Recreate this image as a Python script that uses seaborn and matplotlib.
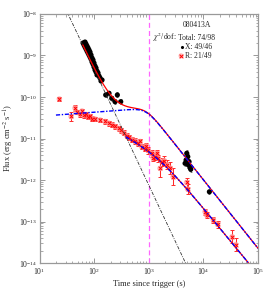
import numpy as np
import pandas as pd
import matplotlib
matplotlib.use('Agg')
import matplotlib.pyplot as plt
import seaborn as sns
from matplotlib.ticker import LogLocator, NullFormatter

sns.set_style('ticks')
plt.rcParams['font.family'] = ['Liberation Serif', 'DejaVu Serif']
plt.rcParams['mathtext.fontset'] = 'stix'

# ---------------- data ----------------
# X-ray (black filled circles)
x_time = [62.7, 65.3, 68.1, 68.1, 71.0, 71.0, 74.1, 74.1, 77.3, 77.3, 80.6, 80.6,
          84.1, 84.1, 87.7, 87.7, 91.5, 91.5, 95.4, 95.4, 99.5, 99.5, 103.8, 103.8,
          108.3, 108.3, 113, 113, 117.8, 122.9, 128.2, 133.7, 139.5, 163, 187.4,
          210, 241.5, 266, 307, 4624, 4822, 4965, 5180, 5310, 5470, 5705, 5870, 12880]
x_flux = [2.0e-9, 1.79e-9, 2.11e-9, 1.60e-9, 1.89e-9, 1.44e-9, 1.69e-9, 1.28e-9,
          1.52e-9, 1.15e-9, 1.36e-9, 1.03e-9, 1.21e-9, 9.2e-10, 1.03e-9, 8.2e-10,
          8.7e-10, 7.0e-10, 7.8e-10, 6.2e-10, 6.6e-10, 5.3e-10, 5.6e-10, 4.5e-10,
          5.0e-10, 4.0e-10, 4.2e-10, 3.4e-10, 3.8e-10, 3.2e-10, 2.87e-10, 2.43e-10,
          2.57e-10, 1.12e-10, 1.23e-10, 9.3e-11, 7.7e-11, 1.12e-10, 7.7e-11,
          2.52e-12, 3.03e-12, 4.4e-12, 3.64e-12, 2.30e-12, 2.76e-12, 1.98e-12,
          1.81e-12, 5.2e-13]
x_err_dex = [0.03] * 33 + [0.06] * 6 + [0.07] * 8 + [0.05]

# Optical R band (red crosses)
r_time = [23.1, 37.8, 44.7, 47.6, 55.2, 60.0, 65.3, 71.1, 77.3, 84.1, 91.5, 103.8,
          128.2, 158.5, 183.7, 208.4, 241.6, 280, 311, 345, 392, 435, 494, 561,
          637, 693, 738, 855, 891, 970, 1125, 1199, 1304, 1419, 1500, 1610, 1730,
          1906, 2163, 2455, 2786, 4920, 5140, 10740, 11450, 15250, 18200, 33560,
          38900]
r_flux = [8.95e-11, 3.39e-11, 5.43e-11, 4.35e-11, 3.89e-11, 4.60e-11, 3.68e-11,
          3.79e-11, 3.30e-11, 3.39e-11, 3.03e-11, 2.95e-11, 2.79e-11, 2.57e-11,
          2.36e-11, 2.17e-11, 1.95e-11, 1.76e-11, 1.56e-11, 1.36e-11, 1.18e-11,
          1.06e-11, 9.46e-12, 8.71e-12, 7.58e-12, 8.47e-12, 6.41e-12, 5.74e-12,
          6.59e-12, 5.14e-12, 4.40e-12, 3.39e-12, 3.68e-12, 4.36e-12, 3.30e-12,
          1.91e-12, 2.76e-12, 2.95e-12, 2.36e-12, 1.95e-12, 1.20e-12, 8.71e-13,
          6.07e-13, 1.72e-13, 1.43e-13, 1.09e-13, 8.47e-14, 4.31e-14, 2.79e-14]
r_err_dex = [0.04, 0.12, 0.07, 0.06, 0.06, 0.06, 0.06, 0.06, 0.06, 0.06, 0.06, 0.06,
             0.06, 0.06, 0.06, 0.06, 0.06, 0.06, 0.06, 0.06, 0.06, 0.06, 0.06, 0.07,
             0.07, 0.07, 0.07, 0.07, 0.08, 0.08, 0.08, 0.08, 0.08, 0.08, 0.08, 0.2,
             0.1, 0.1, 0.1, 0.15, 0.2, 0.1, 0.12, 0.07, 0.07, 0.08, 0.08, 0.15, 0.15]

# fitted model components (parameters)
steep_tref, steep_fref, steep_index = 33.3, 1e-8, 2.79
plat_norm, plat_tbreak, plat_a1, plat_a2, plat_smooth = 10**-10.27, 900.0, -0.1, 1.65, 3.0
opt_norm, opt_tbreak, opt_a1, opt_a2, opt_smooth = 10**-11.36, 1500.0, 0.7, 1.6, 2.0
x_model_range = (62.0, 1e5)
plat_range = (20.0, 1e5)
opt_range = (380.0, 1e5)
steep_range = (10.0, 1e5)
t_vline = 1000.0

xticks = [1e1, 1e2, 1e3, 1e4, 1e5]
yticks = [1e-14, 1e-13, 1e-12, 1e-11, 1e-10, 1e-9, 1e-8]


def steep(t):
    return steep_fref * (t / steep_tref) ** (-steep_index)


def sbpl(t, norm, tb, a1, a2, w):
    x = t / tb
    return norm * (x ** (w * a1) + x ** (w * a2)) ** (-1.0 / w)


fig = plt.figure(figsize=(2.70, 2.91), dpi=100)
ax = fig.add_axes([0.1463, 0.0962, 0.8093, 0.8557])
ax.set_xscale('log')
ax.set_yscale('log')
ax.set_xlim(1e1, 1e5)
ax.set_ylim(1e-14, 1e-8)

# data
xf = np.array(x_flux); xe = np.array(x_err_dex)
rf = np.array(r_flux); re = np.array(r_err_dex)
ax.errorbar(r_time, rf, yerr=[rf * (1 - 10 ** -re), rf * (10 ** re - 1)], fmt='none',
            ecolor='#ff2a2a', elinewidth=0.75, capsize=1.4, capthick=0.7, zorder=2)
df_r = pd.DataFrame({'t': r_time, 'f': r_flux})
sns.scatterplot(data=df_r, x='t', y='f', ax=ax, marker='o', s=16, color='#ff9a9a',
                edgecolor='none', alpha=0.7, zorder=2, legend=False)
sns.scatterplot(data=df_r, x='t', y='f', ax=ax, marker='x', s=7, color='#ff0000',
                linewidth=0.7, zorder=3, legend=False)

ax.errorbar(x_time, xf, yerr=[xf * (1 - 10 ** -xe), xf * (10 ** xe - 1)], fmt='none',
            ecolor='#555555', elinewidth=0.6, capsize=0.8, capthick=0.5, zorder=3)
df_x = pd.DataFrame({'t': x_time, 'f': x_flux})
sns.scatterplot(data=df_x, x='t', y='f', ax=ax, marker='o', s=14, color='black',
                edgecolor='none', zorder=4, legend=False)

# models
t_st = np.geomspace(*steep_range, 300)
sns.lineplot(x=t_st, y=steep(t_st), ax=ax, color='#333333', lw=0.6,
             dashes=False, zorder=5, sort=False)
ax.lines[-1].set_linestyle((0, (4, 1.5, 1, 1.5)))

t_x = np.geomspace(*x_model_range, 300)
sns.lineplot(x=t_x, y=steep(t_x) + sbpl(t_x, plat_norm, plat_tbreak, plat_a1, plat_a2, plat_smooth),
             ax=ax, color='#ff0000', lw=0.9, zorder=6, sort=False)
t_p = np.geomspace(*plat_range, 300)
sns.lineplot(x=t_p, y=sbpl(t_p, plat_norm, plat_tbreak, plat_a1, plat_a2, plat_smooth),
             ax=ax, color='#0000ff', lw=1.0, zorder=7, sort=False)
ax.lines[-1].set_linestyle((0, (3, 1.2, 1, 1.2)))

t_o = np.geomspace(*opt_range, 300)
sns.lineplot(x=t_o, y=sbpl(t_o, opt_norm, opt_tbreak, opt_a1, opt_a2, opt_smooth),
             ax=ax, color='#ff0000', lw=0.9, zorder=6, sort=False)
sns.lineplot(x=t_o, y=sbpl(t_o, opt_norm, opt_tbreak, opt_a1, opt_a2, opt_smooth),
             ax=ax, color='#0000ff', lw=1.0, zorder=7, sort=False)
ax.lines[-1].set_linestyle((0, (3, 1.2, 1, 1.2)))

ax.axvline(t_vline, color='#ff66ff', lw=0.9, ls=(0, (4, 2.5)), zorder=1)

# axes styling
for s in ax.spines.values():
    s.set_color('#999999')
    s.set_linewidth(0.9)
ax.set_xticks(xticks)
ax.set_yticks(yticks)
ax.xaxis.set_minor_locator(LogLocator(base=10, subs=np.arange(2, 10), numticks=20))
ax.yaxis.set_minor_locator(LogLocator(base=10, subs=np.arange(2, 10), numticks=20))
ax.xaxis.set_minor_formatter(NullFormatter())
ax.yaxis.set_minor_formatter(NullFormatter())
ax.tick_params(which='both', direction='in', top=True, right=True, color='#888888',
               labelsize=5.5, pad=2)
ax.tick_params(which='major', length=3.5, width=0.6)
ax.tick_params(which='minor', length=1.8, width=0.5)
ax.set_xlabel('Time since trigger (s)', fontsize=6, labelpad=2)
ax.set_ylabel('Flux (erg cm$^{-2}$ s$^{-1}$)', fontsize=6, labelpad=2)

# annotations
tr = ax.transAxes
ax.text(0.72, 0.955, '080413A', transform=tr, fontsize=5.5, ha='center', va='center')
ax.text(0.52, 0.905, '$\\chi^2$/dof:', transform=tr, fontsize=5.5, ha='left', va='center')
ax.text(0.635, 0.905, 'Total: 74/98', transform=tr, fontsize=5.5, ha='left', va='center')
ax.text(0.668, 0.868, 'X: 49/46', transform=tr, fontsize=5.5, ha='left', va='center')
ax.text(0.668, 0.832, 'R: 21/49', transform=tr, fontsize=5.5, ha='left', va='center')
ax.scatter([0.65], [0.868], transform=tr, s=1.5, color='black', zorder=8, clip_on=False)
ax.scatter([0.648], [0.832], transform=tr, s=14, color='#ff9a9a', alpha=0.7,
           edgecolor='none', zorder=8, clip_on=False)
ax.scatter([0.648], [0.832], transform=tr, s=7, marker='x', color='#ff0000',
           linewidth=0.7, zorder=9, clip_on=False)

fig.savefig('out.png', dpi=100)
